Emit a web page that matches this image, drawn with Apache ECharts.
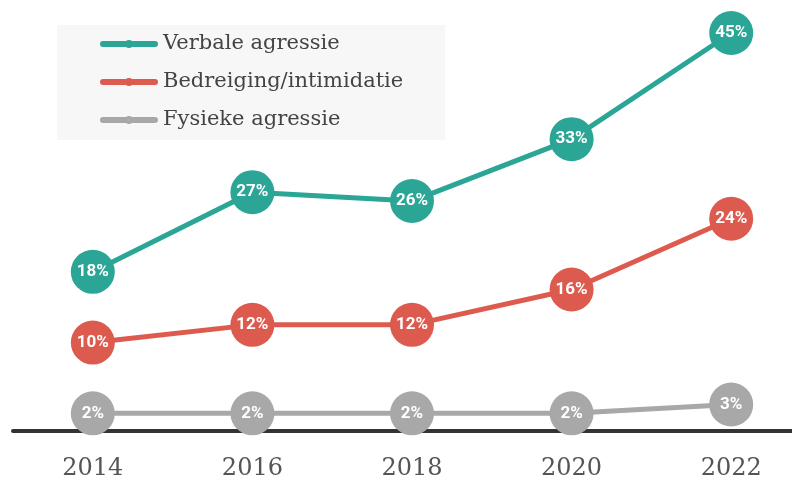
<!DOCTYPE html>
<html><head><meta charset="utf-8">
<script src="https://cdn.jsdelivr.net/npm/echarts@6/dist/echarts.min.js"></script>
<style>html,body{margin:0;padding:0;background:#fff}#c{width:792px;height:482px}</style>
</head><body><div id="c"></div>
<script>
const years = ['2014','2016','2018','2020','2022'];
const verbale = [18, 27, 26, 33, 45];
const bedreiging = [10, 12, 12, 16, 24];
const fysiek = [2, 2, 2, 2, 3];
const names = ['Verbale agressie','Bedreiging/intimidatie','Fysieke agressie'];
const colors = ['#2aa596','#dd5a4f','#a8a8a8'];
const legendIcon = 'path://M3,2 L55,2 A3,3 0 0 1 55,8 L3,8 A3,3 0 0 1 3,2 Z M29,1 A4,4 0 1 1 28.99,1 Z';

function mk(name, data, color, z){
  return {
    name, type:'line', data, z,
    symbol:'circle', symbolSize:44, clip:false,
    itemStyle:{color},
    lineStyle:{color, width:5},
    label:{show:true, position:'inside', formatter:'{c}%', color:'#fff',
      fontFamily:'Roboto', fontWeight:'bold', fontSize:17},
    emphasis:{disabled:true}
  };
}
const chart = echarts.init(document.getElementById('c'), null, {renderer:'canvas'});
chart.setOption({
  animation:false,
  grid:{left:13, width:798, top:33, bottom:51, containLabel:false, outerBoundsMode:'none'},
  legend:{
    orient:'vertical', left:57, top:25,
    backgroundColor:'#f7f7f7',
    padding:[7,42,8,43],
    icon: legendIcon,
    itemWidth:58, itemHeight:10, itemGap:14,
    textStyle:{fontFamily:'DejaVu Serif', fontSize:21, lineHeight:24, color:'#444'},
    data:names
  },
  xAxis:{type:'category', data:years, boundaryGap:true,
    axisLine:{lineStyle:{color:'#333', width:4}},
    axisTick:{show:false},
    axisLabel:{fontFamily:'DejaVu Serif', fontSize:24, color:'#555', margin:26}
  },
  yAxis:{type:'value', min:0, max:45, show:false, splitLine:{show:false}},
  series:[mk(names[0], verbale, colors[0], 3), mk(names[1], bedreiging, colors[1], 2), mk(names[2], fysiek, colors[2], 1)]
});
</script></body></html>
